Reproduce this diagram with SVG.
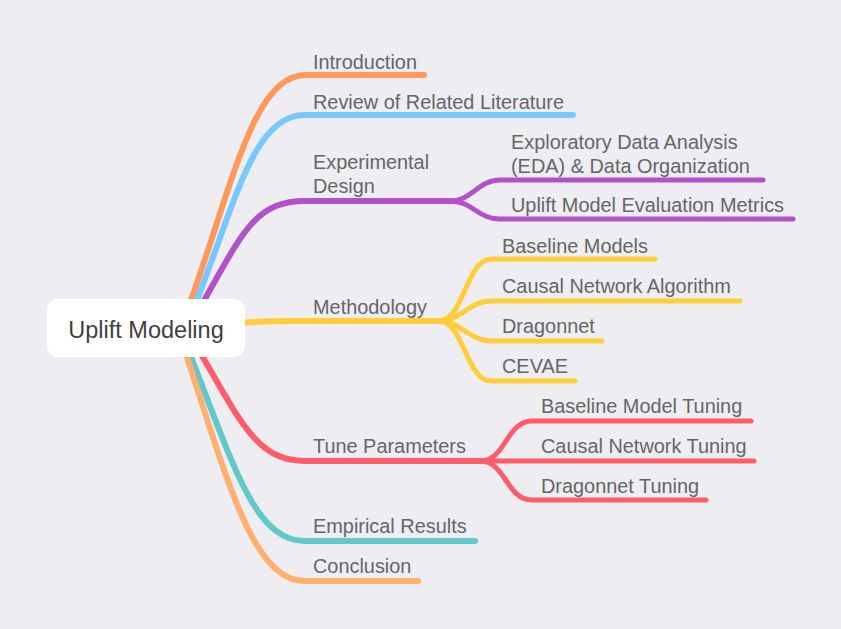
<svg xmlns="http://www.w3.org/2000/svg" width="841" height="629" viewBox="0 0 841 629">
<style>
.bg{fill:#EEEDF2}
.br{fill:none;stroke-width:6;stroke-linecap:round;stroke-linejoin:round}
.sb{fill:none;stroke-width:5;stroke-linecap:round;stroke-linejoin:round}
.lbl{font-family:"Liberation Sans",Arial,sans-serif;font-size:19.9px;fill:#666666}
.root{font-family:"Liberation Sans",Arial,sans-serif;font-size:23.5px;fill:#3f3f3f}
</style>
<rect class="bg" x="0" y="0" width="841" height="629"/>
<g id="connectors">
  <path class="br" stroke="#FF985A" d="M180,330 C230,200 250,75 305,75 L424,75"/>
  <path class="br" stroke="#76C8FF" d="M185,330 C235,210 250,115 305,115 L573,115"/>
  <path class="br" stroke="#B152C8" d="M190,325 C240,240 250,201 305,201 L450,201"/>
  <path class="sb" stroke="#B152C8" d="M450,201 C472,201 478,180 500,180 L763,180"/>
  <path class="sb" stroke="#B152C8" d="M450,201 C472,201 478,219 500,219 L793,219"/>
  <path class="br" stroke="#FFCC3A" d="M200,328 C240,322 260,321 305,321 L438,321"/>
  <path class="sb" stroke="#FFCC3A" d="M438,321 C465,321 465,259 492,259 L655,259"/>
  <path class="sb" stroke="#FFCC3A" d="M438,321 C462,321 468,301 492,301 L740,301"/>
  <path class="sb" stroke="#FFCC3A" d="M438,321 C462,321 468,341 492,341 L602,341"/>
  <path class="sb" stroke="#FFCC3A" d="M438,321 C465,321 465,381 492,381 L575,381"/>
  <path class="br" stroke="#FF5C6A" d="M190,335 C240,420 255,461 305,461 L480,461"/>
  <path class="sb" stroke="#FF5C6A" d="M480,461 C506,461 506,421 532,421 L751,421"/>
  <path class="sb" stroke="#FF5C6A" d="M480,461 L754,461"/>
  <path class="sb" stroke="#FF5C6A" d="M480,461 C506,461 506,500 532,500 L706,500"/>
  <path class="br" stroke="#62C8CA" d="M180,330 C230,450 250,541 305,541 L475,541"/>
  <path class="br" stroke="#FFAF6E" d="M178,330 C225,470 250,581 305,581 L418,581"/>
</g>
<g id="root">
  <rect x="47" y="299" width="198" height="58" rx="11" fill="#FFFFFF"/>
  <text class="root" x="146" y="338" text-anchor="middle">Uplift Modeling</text>
</g>
<g id="introduction"><text class="lbl" x="313" y="69">Introduction</text></g>
<g id="review"><text class="lbl" x="313" y="109">Review of Related Literature</text></g>
<g id="experimental"><text class="lbl" x="313" y="169">Experimental</text><text class="lbl" x="313" y="193">Design</text></g>
<g id="eda"><text class="lbl" x="511" y="149">Exploratory Data Analysis</text><text class="lbl" x="511" y="173">(EDA) &amp; Data Organization</text></g>
<g id="metrics"><text class="lbl" x="511" y="212">Uplift Model Evaluation Metrics</text></g>
<g id="methodology"><text class="lbl" x="313" y="314">Methodology</text></g>
<g id="baseline"><text class="lbl" x="502" y="253">Baseline Models</text></g>
<g id="causal"><text class="lbl" x="502" y="293">Causal Network Algorithm</text></g>
<g id="dragonnet"><text class="lbl" x="502" y="333">Dragonnet</text></g>
<g id="cevae"><text class="lbl" x="502" y="373">CEVAE</text></g>
<g id="tune"><text class="lbl" x="313" y="453">Tune Parameters</text></g>
<g id="baseline-tuning"><text class="lbl" x="541" y="413">Baseline Model Tuning</text></g>
<g id="causal-tuning"><text class="lbl" x="541" y="453">Causal Network Tuning</text></g>
<g id="dragonnet-tuning"><text class="lbl" x="541" y="493">Dragonnet Tuning</text></g>
<g id="empirical"><text class="lbl" x="313" y="533">Empirical Results</text></g>
<g id="conclusion"><text class="lbl" x="313" y="573">Conclusion</text></g>
</svg>
